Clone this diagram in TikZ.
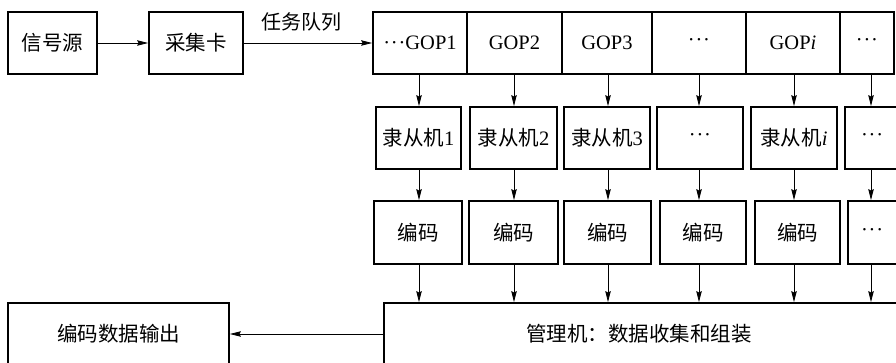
\documentclass[tikz,border=0pt]{standalone}
\usepackage{fontspec}
\setmainfont{Liberation Serif}
\newfontfamily\cjk{Noto Sans CJK SC}
\usetikzlibrary{arrows.meta}
\newcommand{\zh}[1]{{\cjk #1}}
\newcommand{\dd}{{\textperiodcentered\kern0.8pt\textperiodcentered\kern0.8pt\textperiodcentered}}
\begin{document}
\begin{tikzpicture}[x=1pt,y=-1pt,
  box/.style={draw, line width=1.8pt, inner sep=0pt, minimum height=62pt, font=\fontsize{20.5}{24}\selectfont},
  arr/.style={line width=0.8pt, -{Stealth[length=11pt,width=5.5pt,inset=1.5pt]}},
  lab/.style={inner sep=0pt, font=\fontsize{20}{24}\selectfont}]
\fill[white] (0,0) rectangle (896,363);
\clip (0,0) rectangle (896,363);
% top row
\node[box, minimum width=89pt] (src) at (52.5,43) {\zh{信号源}};
\node[box, minimum width=94pt] (cap) at (196,43) {\zh{采集卡}};
\node[box, minimum width=94pt] (g1) at (420,43) {\dd GOP1};
\node[box, minimum width=95pt] (g2) at (514.5,43) {GOP2};
\node[box, minimum width=90pt] (g3) at (607,43) {GOP3};
\node[box, minimum width=94pt] (g4) at (699,43) {\dd};
\node[box, minimum width=94pt] (g5) at (793,43) {GOP\textit{i}};
\node[box, minimum width=54pt] (g6) at (867,43) {\dd};
% slave row
\node[box, minimum width=85pt] (s1) at (418.5,138) {\zh{隶从机}1};
\node[box, minimum width=87pt] (s2) at (513.5,138) {\zh{隶从机}2};
\node[box, minimum width=86pt] (s3) at (607,138) {\zh{隶从机}3};
\node[box, minimum width=86pt] (s4) at (700,138) {\dd};
\node[box, minimum width=86pt] (s5) at (794,138) {\zh{隶从机}\textit{i}};
\node[box, minimum width=86pt, text width=86pt, align=left] (s6) at (888,138) {\hspace*{16pt}\dd};
% encoder row
\node[box, minimum width=88pt, minimum height=63pt] (e1) at (418,232.5) {\zh{编码}};
\node[box, minimum width=89pt, minimum height=63pt] (e2) at (513.5,232.5) {\zh{编码}};
\node[box, minimum width=87pt, minimum height=63pt] (e3) at (607.5,232.5) {\zh{编码}};
\node[box, minimum width=86pt, minimum height=63pt] (e4) at (703,232.5) {\zh{编码}};
\node[box, minimum width=85pt, minimum height=63pt] (e5) at (797.5,232.5) {\zh{编码}};
\node[box, minimum width=87pt, minimum height=63pt, text width=87pt, align=left] (e6) at (891.5,232.5) {\hspace*{13pt}\dd};
% bottom row
\node[box, minimum width=221pt] (out) at (118.5,334) {\zh{编码数据输出}};
\node[box, minimum width=576pt, text width=576pt, align=left] (mgr) at (672,334) {\hspace*{142pt}\zh{管理机：数据收集和组装}};
% arrows
\draw[arr] (src.east) -- (cap.west);
\draw[arr] (cap.east) -- node[lab, above=11pt, pos=0.45] {\zh{任务队列}} (g1.west);
\foreach \i/\x in {1/419,2/514,3/608,4/699,5/794,6/871} {
  \coordinate (x\i) at (\x,0);
  \draw[arr] (g\i.south -| x\i) -- (s\i.north -| x\i);
  \draw[arr] (s\i.south -| x\i) -- (e\i.north -| x\i);
  \draw[arr] (e\i.south -| x\i) -- (mgr.north -| x\i);
}
\draw[arr] (mgr.west) -- (out.east);
\end{tikzpicture}
\end{document}
